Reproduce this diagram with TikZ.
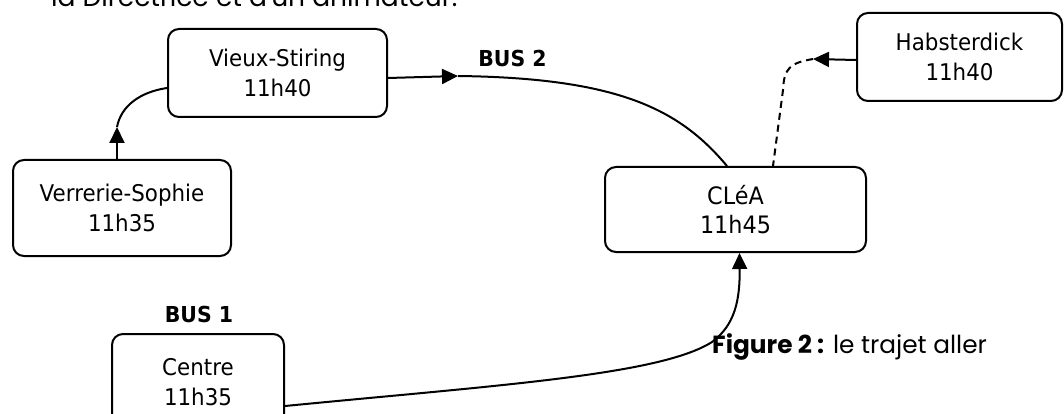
\documentclass[tikz,border=0pt]{standalone}
\usepackage{fontspec}
\setmainfont{DejaVu Sans}[FakeStretch=0.93]
\newfontfamily\capfont{Poppins}
\usetikzlibrary{arrows.meta}
\tikzset{
  stop/.style={draw, line width=2pt, rounded corners=11pt, align=center,
    font=\fontsize{23}{30}\selectfont, inner sep=0pt},
  conn/.style={line width=2pt},
  arr/.style={conn, -{Triangle[length=16pt,width=15pt]}},
  buslbl/.style={font=\fontsize{22}{26}\selectfont\bfseries, anchor=base},
}
\begin{document}
\begin{tikzpicture}[x=1pt,y=-1pt]
\useasboundingbox (0,0) rectangle (1064,414);
% cut-off line of text at the top
\node[anchor=base west, inner sep=0pt, font=\capfont\fontsize{26.5}{30}\selectfont] (top) at (51,7) {la Directrice et d'un animateur.};
% stops
\node[stop, minimum width=219pt, minimum height=88pt] (vieux) at (277.5,73) {Vieux-Stiring\\11h40};
\node[stop, minimum width=205pt, minimum height=88pt] (hab) at (959.5,57) {Habsterdick\\11h40};
\node[stop, minimum width=261pt, minimum height=85pt, font=\fontsize{24}{29}\selectfont] (clea) at (735.5,209.5) {CLéA\\11h45};
\node[stop, minimum width=218pt, minimum height=96pt] (verr) at (122,208) {Verrerie-Sophie\\11h35};
\node[stop, minimum width=172pt, minimum height=96pt] (centre) at (198,382) {Centre\\11h35};
% labels
\node[buslbl] (bus2) at (512.5,67) {BUS 2};
\node[buslbl] (bus1) at (199,322) {BUS 1};
\node[anchor=base west, inner sep=0pt, font=\capfont\fontsize{24.8}{28}\selectfont] (cap) at (712,353) {\textbf{Figure 2 :} le trajet aller};
% mid-route points
\coordinate (a1) at (117,127);
\coordinate (a2) at (458,76);
\coordinate (a3) at (813,59);
% Verrerie-Sophie -> Vieux-Stiring
\draw[arr] (verr.north -| a1) -- (a1);
\draw[conn] (a1) .. controls (121,106) and (140,92) .. ([yshift=-15pt]vieux.west);
% Vieux-Stiring -> CLeA (bus 2)
\draw[arr] ([yshift=-5pt]vieux.east) -- (a2);
\draw[conn] (a2) .. controls (620,78) and (680,110) .. ([xshift=-8.5pt]clea.north);
% Habsterdick -> CLeA (dashed)
\draw[arr] ([yshift=-3pt]hab.west) -- (a3);
\draw[conn, dash pattern=on 7pt off 5pt] (a3) .. controls (790,63) and (784,68) .. (783,90) -- ([xshift=37.5pt]clea.north);
% Centre -> CLeA (bus 1)
\draw[arr] ([yshift=-24pt]centre.east) .. controls (500,385) and (660,375) .. (712,342) .. controls (735,325) and (740,300) .. ([xshift=4pt]clea.south);
\end{tikzpicture}
\end{document}
